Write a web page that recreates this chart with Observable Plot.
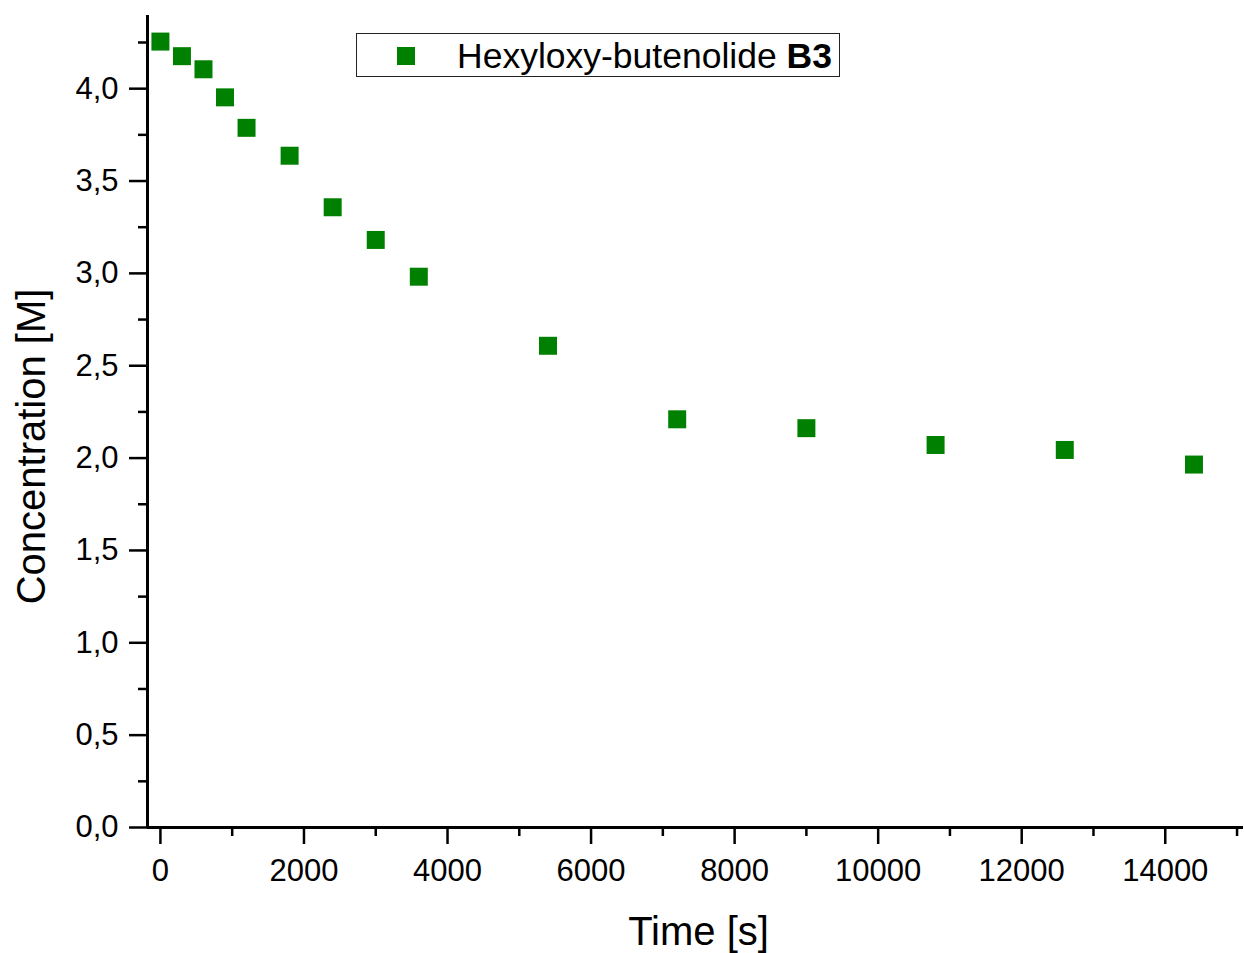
<!DOCTYPE html>
<html>
<head>
<meta charset="utf-8">
<script src="https://cdn.jsdelivr.net/npm/d3@7"></script>
<script src="https://cdn.jsdelivr.net/npm/@observablehq/plot@0.6"></script>
<style>
  html, body { margin: 0; padding: 0; background: #ffffff; }
  #wrap { position: relative; width: 1244px; height: 953px; font-family: "Liberation Sans", Arial, sans-serif; }
  #legend { position: absolute; left: 356px; top: 33px; width: 482px; height: 42px; border: 1.5px solid #222; background: #fff; }
  #legend .sw { position: absolute; left: 40px; top: 13px; width: 18px; height: 18px; background: #008000; }
  #legend .lab { position: absolute; left: 100px; top: 2px; font-size: 35.5px; line-height: 40px; color: #000; white-space: nowrap; }
</style>
</head>
<body>
<div id="wrap">
  <div id="chart"></div>
  <div id="legend"><div class="sw"></div><div class="lab">Hexyloxy-butenolide <b>B3</b></div></div>
</div>
<script>
const times = [0, 300, 600, 900, 1200, 1800, 2400, 3000, 3600, 5400, 7200, 9000, 10800, 12600, 14400];
const concentrations = [4.255, 4.176, 4.105, 3.953, 3.788, 3.637, 3.358, 3.181, 2.982, 2.608, 2.210, 2.162, 2.071, 2.044, 1.965];
const xMajorTicks = [0, 2000, 4000, 6000, 8000, 10000, 12000, 14000];
const xMinorTicks = [1000, 3000, 5000, 7000, 9000, 11000, 13000, 15000];
const yMajorTicks = [0, 0.5, 1.0, 1.5, 2.0, 2.5, 3.0, 3.5, 4.0];
const yMinorTicks = [0.25, 0.75, 1.25, 1.75, 2.25, 2.75, 3.25, 3.75, 4.25];
const xLabel = "Time [s]";
const yLabel = "Concentration [M]";

const data = times.map((t, i) => ({t, c: concentrations[i]}));
const fmtY = d => d3.format(".1f")(d).replace(".", ",");

const chart = Plot.plot({
  width: 1244,
  height: 953,
  marginLeft: 147,
  marginRight: 1,
  marginTop: 13,
  marginBottom: 126,
  style: {fontFamily: "'Liberation Sans', Arial, sans-serif", background: "#ffffff", color: "#000"},
  x: {domain: [-180, 15090], axis: null},
  y: {domain: [0, 4.407], axis: null},
  marks: [
    Plot.axisX(xMinorTicks, {tickSize: 9, tickFormat: () => "", strokeWidth: 2.5, stroke: "#000", label: null}),
    Plot.axisX(xMajorTicks, {tickSize: 17, tickPadding: 14, fontSize: 31, strokeWidth: 2.5, stroke: "#000", fill: "#000", tickFormat: d => String(d), label: null}),
    Plot.axisY(yMinorTicks, {tickSize: 9, tickFormat: () => "", strokeWidth: 2.5, stroke: "#000", label: null}),
    Plot.axisY(yMajorTicks, {tickSize: 18, tickPadding: 11, fontSize: 31, strokeWidth: 2.5, stroke: "#000", fill: "#000", tickFormat: fmtY, label: null}),
    Plot.ruleX([-180], {stroke: "#000", strokeWidth: 3, y1: 0, y2: 4.407, insetBottom: -2}),
    Plot.ruleY([0], {stroke: "#000", strokeWidth: 3}),
    Plot.dot(data, {x: "t", y: "c", symbol: "square", r: 10.15, fill: "#008000", stroke: "none"}),
    Plot.text([xLabel], {frameAnchor: "bottom", textAnchor: "middle", lineAnchor: "top", dy: 89, dx: 3, fontSize: 40, fill: "#000"}),
    Plot.text([yLabel], {frameAnchor: "left", textAnchor: "middle", rotate: -90, dx: -115, dy: 26, fontSize: 40, fill: "#000"})
  ]
});
document.getElementById("chart").appendChild(chart);
</script>
</body>
</html>
